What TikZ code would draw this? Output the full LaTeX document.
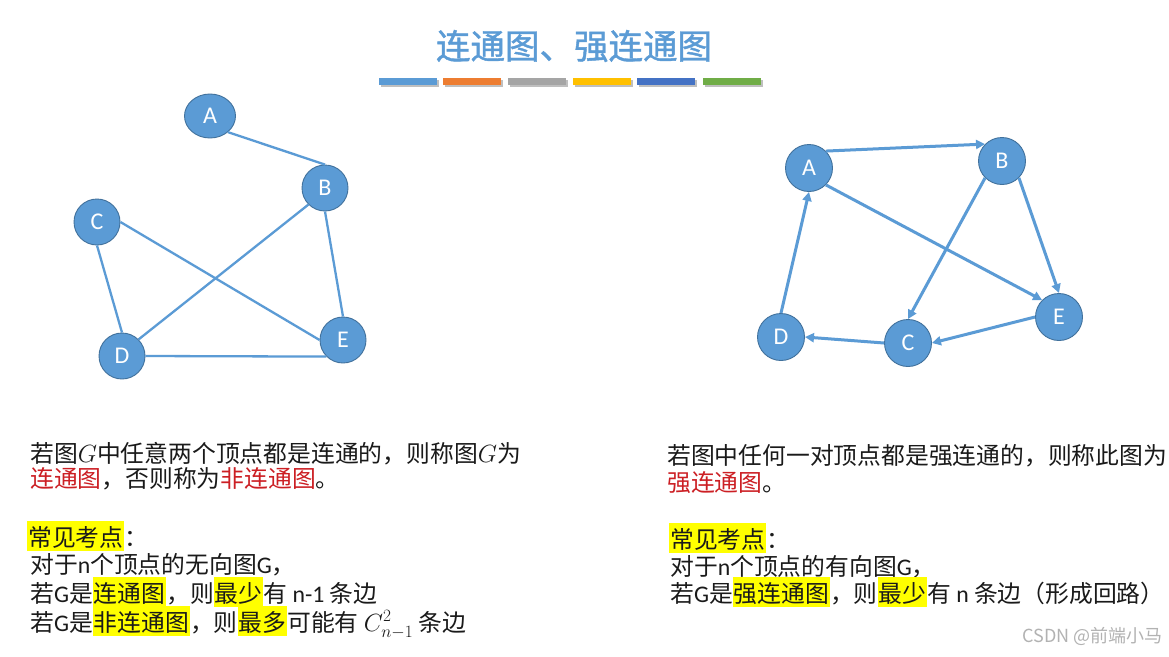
\documentclass[tikz,border=0pt]{standalone}
\usepackage{fontspec}
\setmainfont{Noto Sans CJK SC}
\newfontfamily\lat{Carlito}
\newfontfamily\titlefont[FakeBold=1.2]{Noto Sans CJK SC}
\usetikzlibrary{arrows.meta,shapes.geometric}
\definecolor{nodeblue}{HTML}{5B9BD5}
\definecolor{nodeedge}{HTML}{41719C}
\definecolor{txtred}{HTML}{CC1F24}
\definecolor{hlyellow}{HTML}{FFFF00}
\definecolor{barA}{HTML}{5B9BD5}
\definecolor{barB}{HTML}{ED7D31}
\definecolor{barC}{HTML}{A5A5A5}
\definecolor{barD}{HTML}{FFC000}
\definecolor{barE}{HTML}{4472C4}
\definecolor{barF}{HTML}{70AD47}
\definecolor{txtdark}{HTML}{1A1A1A}
\newcommand\hlbox[1]{{\setlength{\fboxsep}{0pt}\colorbox{hlyellow}{\rule[-5pt]{0pt}{30pt}\kern1pt#1\kern1pt}}}
\newcommand\red[1]{\textcolor{txtred}{#1}}
\tikzset{
  vtx/.style={circle, fill=nodeblue, draw=nodeedge, line width=0.9pt, minimum size=46pt, inner sep=0pt, text=white, font=\lat\fontsize{24}{24}\selectfont},
  vtxA/.style={ellipse, fill=nodeblue, draw=nodeedge, line width=0.9pt, minimum width=51pt, minimum height=44pt, inner sep=0pt, text=white, font=\lat\fontsize{24}{24}\selectfont},
  uedge/.style={draw=nodeblue, line width=2.3pt},
  dedge/.style={draw=nodeblue, line width=3pt, -{Triangle[length=9pt,width=9pt]}},
  txtline/.style={anchor=base west, inner sep=0pt, text=txtdark, font=\fontsize{23.8}{28}\selectfont},
  bar/.style={minimum width=58pt, minimum height=6.5pt, inner sep=0pt},
  barshadow/.style={fill=black!25, minimum width=58pt, minimum height=6.5pt, inner sep=0pt}
}
\begin{document}
\begin{tikzpicture}[x=1pt,y=-1pt]
\fill[white] (0,0) rectangle (1169,656);
\useasboundingbox (0,0) rectangle (1169,656);

% title
\node[text=nodeblue, font=\titlefont\fontsize{34.5}{36}\selectfont, inner sep=0pt] (title) at (574,46) {连通图、强连通图};

% bars
\foreach \x/\c [count=\i] in {408/barA,472/barB,537/barC,602/barD,666/barE,732/barF}{
  \node[barshadow] (bs\i) at (\x+1.5,83.5) {};
  \node[bar, fill=\c] (b\i) at (\x,81.3) {};
}

% left graph
\node[vtxA] (LA) at (210,116) {A};
\node[vtx] (LB) at (325,188) {B};
\node[vtx] (LC) at (97,222) {C};
\node[vtx] (LD) at (122,356) {D};
\node[vtx] (LE) at (343,340) {E};
\draw[uedge] (LA.-42) -- (LB.north);
\draw[uedge] (LB.-135) -- (LD.45);
\draw[uedge] (LB.south) -- (LE.north);
\draw[uedge] (LC.south) -- (LD.north);
\draw[uedge] (LC.east) -- (LE.west);
\draw[uedge] (LD.east) -- (LE.-135);

% right graph
\tikzset{vtx/.append style={minimum size=47pt}}
\node[vtx] (RA) at (809,168) {A};
\node[vtx] (RB) at (1002,161) {B};
\node[vtx] (RC) at (908,343) {C};
\node[vtx] (RD) at (781,337) {D};
\node[vtx] (RE) at (1059,317) {E};
\draw[dedge] (RA.45) -- (RB.135);
\draw[dedge] (RA.-45) -- (RE.135);
\draw[dedge] (RB.-45) -- (RE.north);
\draw[dedge] (RB.-135) -- (RC.north);
\draw[dedge] (RE.west) -- (RC.east);
\draw[dedge] (RC.west) -- (RD.east);
\draw[dedge] (RD.north) -- (RA.south);

% left text
\node[txtline] (l1) at (30,462) {若图$G$中任意两个顶点都是连通的，则称图$G$为};
\node[txtline] (l2) at (30,487) {\red{连通图}，否则称为\red{非连通图}。};
\node[txtline] (l3) at (27,546) {\hlbox{常见考点}：};
\node[txtline] (l4) at (30,573) {对于{\lat n}个顶点的无向图{\lat G}，};
\node[txtline] (l5) at (30,602) {若{\lat G}是\hlbox{连通图}，则\hlbox{最少}有 {\lat n-1} 条边};
\node[txtline] (l6) at (30,631) {若{\lat G}是\hlbox{非连通图}，则\hlbox{最多}可能有 {\fontsize{26}{28}\selectfont$C_{n-1}^{2}$} 条边};

% right text
\node[txtline] (r1) at (667,464) {若图中任何一对顶点都是强连通的，则称此图为};
\node[txtline] (r2) at (667,491) {\red{强连通图}。};
\node[txtline] (r3) at (669,548) {\hlbox{常见考点}：};
\node[txtline] (r4) at (670,575) {对于{\lat n}个顶点的有向图{\lat G}，};
\node[txtline] (r5) at (670,602) {若{\lat G}是\hlbox{强连通图}，则\hlbox{最少}有 {\lat n} 条边（形成回路）};

% watermark
\node[anchor=east, inner sep=0pt, text=black!30, font=\fontsize{18}{18}\selectfont] (wm) at (1163,636) {CSDN @前端小马};
\end{tikzpicture}
\end{document}
